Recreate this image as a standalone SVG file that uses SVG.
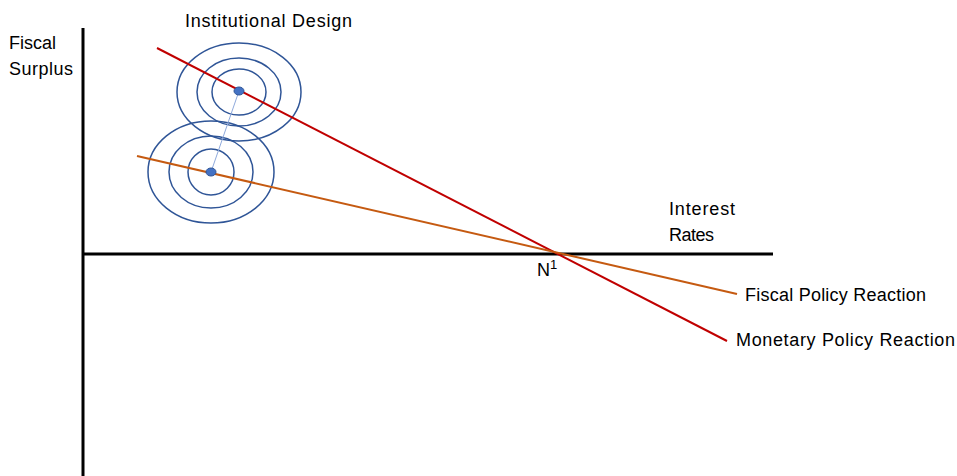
<svg xmlns="http://www.w3.org/2000/svg" width="957" height="476" viewBox="0 0 957 476">
<style>
text{font-family:"Liberation Sans",Arial,sans-serif;font-size:18px;fill:#000}
.ring{fill:none;stroke:#2f5597;stroke-width:1.5}
.dot{fill:#4472c4;stroke:#2f5597;stroke-width:1}
.axis{stroke:#000;stroke-width:3;fill:none}
</style>
<rect width="957" height="476" fill="#fff"/>
<g id="axes">
<line class="axis" x1="83" y1="28" x2="83" y2="476"/>
<line class="axis" x1="83" y1="254" x2="773" y2="254"/>
</g>
<g id="top-cluster">
<ellipse class="ring" cx="239" cy="92" rx="62" ry="49"/>
<ellipse class="ring" cx="239" cy="92" rx="42" ry="34"/>
<ellipse class="ring" cx="239" cy="92" rx="27" ry="23"/>
</g>
<g id="bottom-cluster">
<ellipse class="ring" cx="211" cy="172" rx="63" ry="51"/>
<ellipse class="ring" cx="211" cy="172" rx="42" ry="36"/>
<ellipse class="ring" cx="211" cy="172" rx="23" ry="23"/>
</g>
<g id="connectors">
<line x1="239" y1="91" x2="211" y2="172" stroke="#8faadc" stroke-width="1"/>
<line id="monetary" x1="157" y1="48" x2="727" y2="341" stroke="#c00000" stroke-width="2"/>
<line id="fiscal" x1="137" y1="156" x2="737" y2="294" stroke="#c55a11" stroke-width="2"/>
</g>
<g id="dots">
<ellipse class="dot" cx="239" cy="91" rx="5" ry="4"/>
<ellipse class="dot" cx="211" cy="172" rx="5" ry="4"/>
</g>
<g id="labels">
<text x="185" y="27" textLength="167">Institutional Design</text>
<text x="9" y="49" textLength="47">Fiscal</text>
<text x="9" y="75" textLength="64">Surplus</text>
<text x="669" y="215" textLength="66">Interest</text>
<text x="669" y="241" textLength="45">Rates</text>
<text x="537" y="276">N<tspan font-size="13" dy="-7">1</tspan></text>
<text x="745" y="301" textLength="181">Fiscal Policy Reaction</text>
<text x="736" y="346" textLength="219">Monetary Policy Reaction</text>
</g>
</svg>
